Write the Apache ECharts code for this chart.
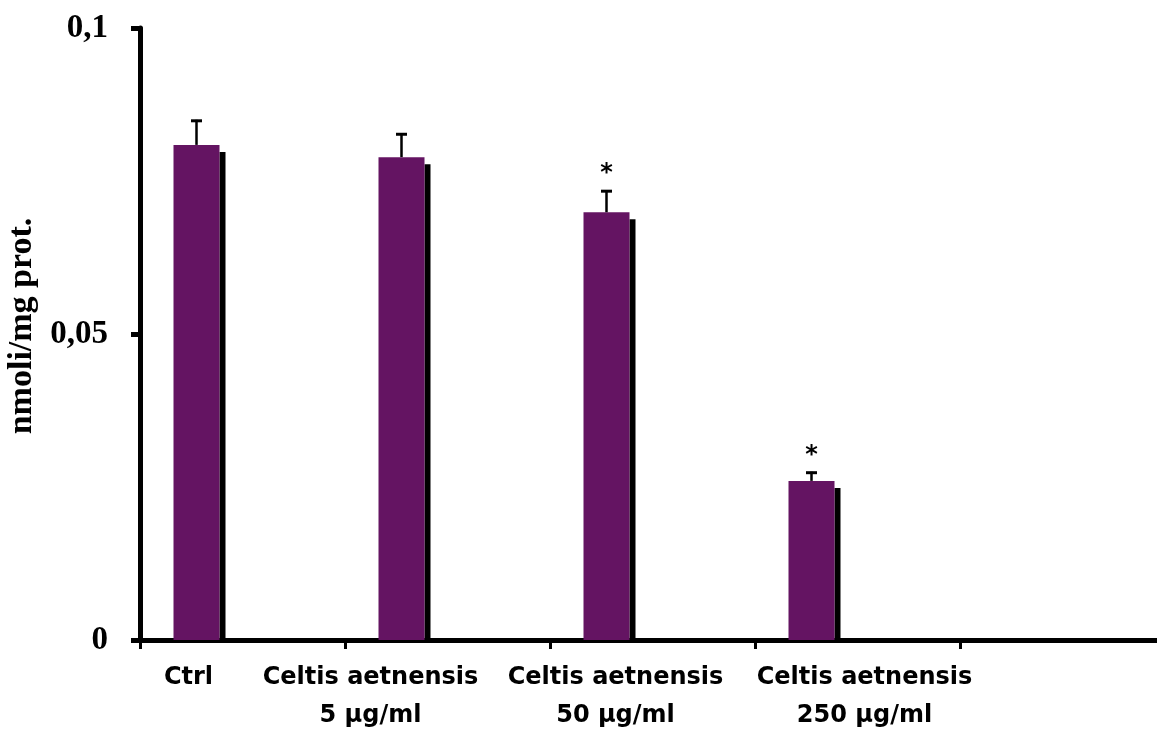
<!DOCTYPE html>
<html>
<head>
<meta charset="utf-8">
<script src="https://cdn.jsdelivr.net/npm/echarts@6/dist/echarts.min.js"></script>
<style>
  html, body { margin: 0; padding: 0; background: #fff; }
  #chart { width: 1157px; height: 735px; }
</style>
</head>
<body>
<div id="chart"></div>
<script>
// data
const categories = ['Ctrl', 'Celtis aetnensis\n5 μg/ml', 'Celtis aetnensis\n50 μg/ml', 'Celtis aetnensis\n250 μg/ml', '']
const means = [0.0809, 0.0789, 0.0699, 0.0260]
const errors = [0.0041, 0.0039, 0.0036, 0.0015]
const marks = ['', '', '*', '*']
const yTickLabels = { 0: '0', 0.05: '0,05', 0.1: '0,1' }

// layout
const BAR_W = 46
const BAR_SHIFT = -46      // bar sits left of category centre (empty second series)
const labelShift = [-54, -77, -37, 7]

const chart = echarts.init(document.getElementById('chart'))

const errData = means.map((m, i) => [i, m, m + errors[i], marks[i]])

chart.setOption({
    animation: false,
    backgroundColor: '#fff',
    grid: {
        left: 140,
        top: 28,
        bottom: 95,
        right: -8,
        outerBoundsMode: 'none'
    },
    xAxis: {
        type: 'category',
        data: categories,
        boundaryGap: true,
        axisLine: { lineStyle: { color: '#000', width: 5 } },
        axisTick: { show: true, length: 9, lineStyle: { color: '#000', width: 3 } },
        axisLabel: { show: false },
        splitLine: { show: false }
    },
    yAxis: {
        type: 'value',
        min: 0,
        max: 0.1,
        interval: 0.05,
        name: 'nmoli/mg prot.',
        nameLocation: 'middle',
        nameGap: 96,
        nameTextStyle: {
            fontFamily: 'Liberation Serif',
            fontWeight: 'bold',
            fontSize: 34,
            color: '#000',
            padding: [0, 0, 0, 16]
        },
        axisLine: { show: true, lineStyle: { color: '#000', width: 5 } },
        axisTick: { show: true, length: 9, lineStyle: { color: '#000', width: 5 } },
        axisLabel: {
            margin: 32,
            fontFamily: 'Liberation Serif',
            fontWeight: 'bold',
            fontSize: 33,
            color: '#000',
            formatter: v => yTickLabels[v] !== undefined ? yTickLabels[v] : String(v).replace('.', ',')
        },
        splitLine: { show: false }
    },
    series: [
        {
            type: 'custom',
            name: 'shadow',
            z: 1,
            silent: true,
            data: errData,
            renderItem: (params, api) => {
                const top = api.coord([api.value(0), api.value(1)])
                const base = api.coord([api.value(0), 0])
                const cx = top[0] + BAR_SHIFT
                return {
                    type: 'rect',
                    shape: { x: cx + BAR_W / 2, y: top[1] + 7, width: 6, height: base[1] - top[1] - 7 },
                    style: { fill: '#000' }
                }
            }
        },
        {
            type: 'bar',
            name: 'mean',
            z: 2,
            data: means,
            barWidth: BAR_W,
            barGap: '100%',
            itemStyle: { color: '#641462' }
        },
        {
            type: 'bar',
            name: 'empty',
            z: 2,
            data: means.map(() => '-'),
            barWidth: BAR_W
        },
        {
            type: 'custom',
            name: 'error',
            z: 3,
            silent: true,
            data: errData,
            renderItem: (params, api) => {
                const top = api.coord([api.value(0), api.value(1)])
                const hi = api.coord([api.value(0), api.value(2)])
                const cx = top[0] + BAR_SHIFT
                const children = [
                    {
                        type: 'line',
                        shape: { x1: cx, y1: top[1], x2: cx, y2: hi[1] },
                        style: { stroke: '#000', lineWidth: 2.5 }
                    },
                    {
                        type: 'line',
                        shape: { x1: cx - 5.5, y1: hi[1] + 1, x2: cx + 5.5, y2: hi[1] + 1 },
                        style: { stroke: '#000', lineWidth: 3 }
                    }
                ]
                const mark = marks[params.dataIndex]
                if (mark) {
                    children.push({
                        type: 'text',
                        style: {
                            x: cx,
                            y: hi[1] - 4,
                            text: mark,
                            fill: '#000',
                            font: 'bold 24px "DejaVu Sans"',
                            textAlign: 'center',
                            textVerticalAlign: 'bottom'
                        }
                    })
                }
                return { type: 'group', children }
            }
        }
    ]
})

// category labels placed under the axis, shifted as in the original figure
const labelGraphics = []
categories.forEach((c, i) => {
    if (!c) return
    const px = chart.convertToPixel({ xAxisIndex: 0 }, i)
    labelGraphics.push({
        type: 'text',
        x: px + labelShift[i],
        y: 659,
        style: {
            text: c,
            fill: '#000',
            font: 'bold 24px "DejaVu Sans"',
            textAlign: 'center',
            lineHeight: 38
        }
    })
})
chart.setOption({ graphic: labelGraphics })
</script>
</body>
</html>
